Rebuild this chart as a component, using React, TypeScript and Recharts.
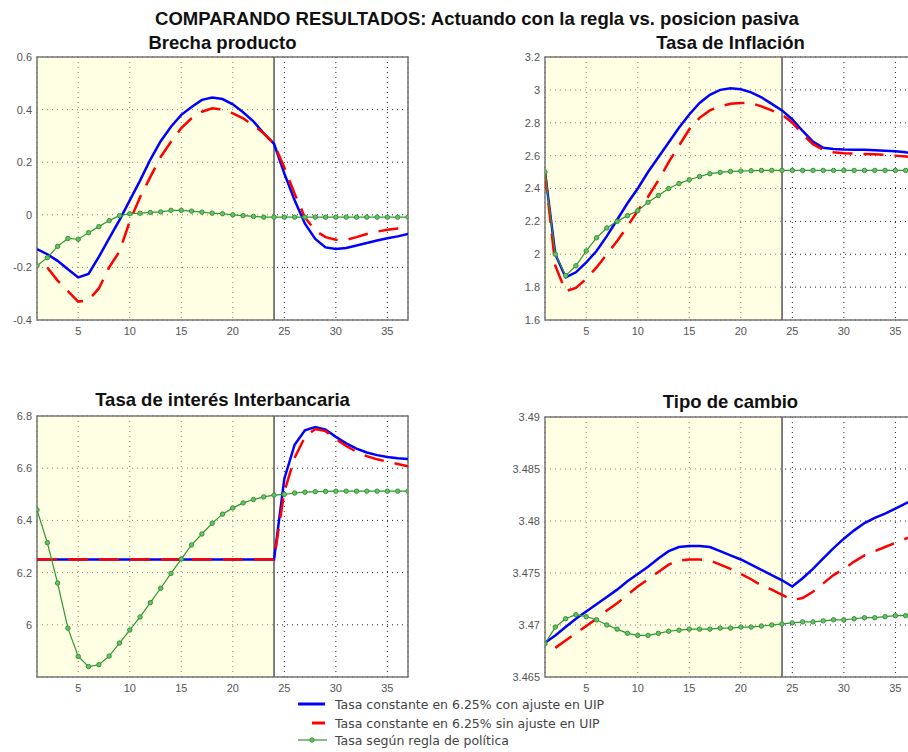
import {
  LineChart,
  Line,
  XAxis,
  YAxis,
  CartesianGrid,
  ReferenceArea,
  ReferenceLine,
} from "recharts";

const periods = [
  1, 2, 3, 4, 5, 6, 7, 8, 9, 10, 11, 12, 13, 14, 15, 16, 17, 18, 19, 20, 21,
  22, 23, 24, 25, 26, 27, 28, 29, 30, 31, 32, 33, 34, 35, 36, 37,
];
const xTicks = [5, 10, 15, 20, 25, 30, 35];
const finRegla = 24;

// Brecha producto
const brechaConAjuste = [
  -0.13, -0.15, -0.175, -0.207, -0.238, -0.225, -0.16, -0.09, -0.02, 0.055,
  0.13, 0.21, 0.28, 0.335, 0.38, 0.41, 0.437, 0.446, 0.44, 0.42, 0.39, 0.355,
  0.31, 0.27, 0.157, 0.055, -0.034, -0.092, -0.124, -0.13, -0.126, -0.117,
  -0.107, -0.098, -0.089, -0.082, -0.073,
];
const brechaSinAjuste = [
  null, -0.2, -0.25, -0.29, -0.33, -0.325, -0.28, -0.2, -0.14, -0.025, 0.067,
  0.144, 0.22, 0.278, 0.33, 0.367, 0.392, 0.405, 0.4, 0.386, 0.367, 0.34, 0.31,
  0.27, 0.18, 0.08, -0.01, -0.06, -0.085, -0.095, -0.095, -0.085, -0.073,
  -0.064, -0.057, -0.052, -0.047,
];
const brechaRegla = [
  -0.194, -0.163, -0.12, -0.09, -0.093, -0.068, -0.045, -0.022, -0.003, 0.004,
  0.006, 0.009, 0.011, 0.017, 0.017, 0.014, 0.01, 0.006, 0.004, 0, -0.003,
  -0.006, -0.009, -0.009, -0.009, -0.009, -0.009, -0.009, -0.009, -0.009,
  -0.009, -0.009, -0.009, -0.009, -0.009, -0.009, -0.009,
];
const brechaTicks = [-0.4, -0.2, 0, 0.2, 0.4, 0.6];

// Tasa de inflacion
const inflConAjuste = [
  2.5, 2.0, 1.86, 1.89, 1.95, 2.02, 2.11, 2.21, 2.31, 2.4, 2.5, 2.59, 2.68,
  2.77, 2.85, 2.92, 2.97, 3.0, 3.01, 3.004, 2.985, 2.955, 2.915, 2.875, 2.82,
  2.75, 2.685, 2.648, 2.64, 2.637, 2.636, 2.635, 2.633, 2.63, 2.627, 2.62, 2.61,
];
const inflSinAjuste = [
  2.5, 1.93, 1.775, 1.795, 1.85, 1.92, 2.0, 2.08, 2.17, 2.265, 2.35, 2.45,
  2.56, 2.66, 2.76, 2.83, 2.875, 2.9, 2.915, 2.92, 2.92, 2.9, 2.875, 2.85, 2.8,
  2.73, 2.67, 2.635, 2.62, 2.615, 2.612, 2.61, 2.608, 2.605, 2.6, 2.595, 2.59,
];
const inflRegla = [
  2.5, 2.0, 1.87, 1.93, 2.02, 2.1, 2.16, 2.2, 2.235, 2.265, 2.316, 2.357, 2.4,
  2.43, 2.453, 2.473, 2.49, 2.498, 2.504, 2.506, 2.508, 2.51, 2.51, 2.51, 2.51,
  2.51, 2.51, 2.51, 2.51, 2.51, 2.51, 2.51, 2.51, 2.51, 2.51, 2.51, 2.51,
];
const inflTicks = [1.6, 1.8, 2, 2.2, 2.4, 2.6, 2.8, 3, 3.2];

// Tasa de interes interbancaria
const tasaConAjuste = [
  6.25, 6.25, 6.25, 6.25, 6.25, 6.25, 6.25, 6.25, 6.25, 6.25, 6.25, 6.25, 6.25,
  6.25, 6.25, 6.25, 6.25, 6.25, 6.25, 6.25, 6.25, 6.25, 6.25, 6.25, 6.56, 6.69,
  6.745, 6.758, 6.748, 6.72, 6.695, 6.675, 6.66, 6.65, 6.643, 6.638, 6.635,
];
const tasaSinAjuste = [
  6.25, 6.25, 6.25, 6.25, 6.25, 6.25, 6.25, 6.25, 6.25, 6.25, 6.25, 6.25, 6.25,
  6.25, 6.25, 6.25, 6.25, 6.25, 6.25, 6.25, 6.25, 6.25, 6.25, 6.25, 6.51, 6.64,
  6.72, 6.75, 6.742, 6.712, 6.685, 6.663, 6.646, 6.634, 6.625, 6.616, 6.607,
];
const tasaRegla = [
  6.44, 6.315, 6.16, 5.987, 5.879, 5.84, 5.847, 5.88, 5.93, 5.98, 6.03, 6.085,
  6.14, 6.197, 6.252, 6.306, 6.348, 6.389, 6.424, 6.448, 6.467, 6.48, 6.49,
  6.497, 6.5, 6.505, 6.508, 6.51, 6.511, 6.512, 6.512, 6.512, 6.512, 6.512,
  6.512, 6.512, 6.512,
];
const tasaTicks = [6, 6.2, 6.4, 6.6, 6.8];

// Tipo de cambio
const cambioConAjuste = [
  3.4683, 3.469, 3.4698, 3.4706, 3.4713, 3.472, 3.4727, 3.4734, 3.4742, 3.4749,
  3.4756, 3.4764, 3.4771, 3.4775, 3.4776, 3.4776, 3.4775, 3.4771, 3.4767,
  3.4763, 3.4758, 3.4753, 3.4748, 3.4743, 3.4737, 3.4745, 3.4754, 3.4764,
  3.4774, 3.4783, 3.4791, 3.4798, 3.4803, 3.4807, 3.4812, 3.4817, 3.4821,
];
const cambioSinAjuste = [
  null, 3.4678, 3.4685, 3.4692, 3.4699, 3.4706, 3.4714, 3.4721, 3.4729, 3.4737,
  3.4744, 3.4751, 3.4758, 3.4762, 3.4763, 3.4763, 3.4762, 3.4758, 3.4754,
  3.4749, 3.4744, 3.4738, 3.4734, 3.4729, 3.4724, 3.4726, 3.4732, 3.474,
  3.4748, 3.4754, 3.4761, 3.4767, 3.4771, 3.4775, 3.4779, 3.4783, 3.4787,
];
const cambioRegla = [
  3.4682, 3.4698, 3.4706, 3.471, 3.4708, 3.4705, 3.47, 3.4696, 3.4692, 3.469,
  3.469, 3.4692, 3.4694, 3.4695, 3.4696, 3.4696, 3.4696, 3.4697, 3.4697,
  3.4698, 3.4698, 3.4699, 3.47, 3.4701, 3.4702, 3.4703, 3.4703, 3.4704, 3.4705,
  3.4705, 3.4706, 3.4707, 3.4707, 3.4708, 3.4709, 3.4709, 3.471,
];
const cambioTicks = [3.465, 3.47, 3.475, 3.48, 3.485, 3.49];

const legendLabels = [
  "Tasa constante en 6.25% con ajuste en UIP",
  "Tasa constante en 6.25% sin ajuste en UIP",
  "Tasa según regla de política",
];

const BLUE = "#0000ff";
const RED = "#ff0000";
const GREEN = "#2f962f";
const FONT = "'Liberation Sans', Arial, sans-serif";
const PLOT_W = 371;
const Y_AXIS_W = 45;

const buildRows = (con: any[], sin: any[], regla: any[]) =>
  periods.map((p, i) => ({ x: p, con: con[i], sin: sin[i], regla: regla[i] }));

const Panel = ({ title, con, sin, regla, ticks, domain, plotLeft, plotTop, plotH, titleTop }: any) => {
  const rows = buildRows(con, sin, regla);
  return (
    <>
      <div
        style={{
          position: "absolute",
          left: plotLeft,
          top: titleTop,
          width: PLOT_W,
          textAlign: "center",
          fontWeight: "bold",
          fontSize: 18.5,
          color: "#111",
        }}
      >
        {title}
      </div>
      <div style={{ position: "absolute", left: plotLeft - Y_AXIS_W, top: plotTop - 10 }}>
        <LineChart
          width={Y_AXIS_W + PLOT_W + 12}
          height={10 + plotH + 22}
          data={rows}
          margin={{ top: 10, right: 12, bottom: 0, left: 0 }}
        >
          <CartesianGrid stroke="#222" strokeDasharray="1 4" />
          {/* yellow shading for the rule period, translucent so the grid shows through */}
          <ReferenceArea x1={1} x2={finRegla} fill="#ffffc3" fillOpacity={0.45} />
          <ReferenceLine x={finRegla} stroke="#555" strokeWidth={1.5} />
          <ReferenceArea x1={1} x2={37} fill="none" stroke="#777" strokeWidth={1.5} />
          <XAxis
            dataKey="x"
            type="number"
            domain={[1, 37]}
            ticks={xTicks}
            allowDataOverflow
            height={22}
            axisLine={false}
            tickLine={false}
            tickSize={0}
            tickMargin={7}
            tick={{ fill: "#555", fontSize: 11, fontFamily: FONT }}
          />
          <YAxis
            type="number"
            domain={domain}
            ticks={ticks}
            allowDataOverflow
            width={Y_AXIS_W}
            axisLine={false}
            tickLine={false}
            tickSize={0}
            tickMargin={5}
            tick={{ fill: "#555", fontSize: 11, fontFamily: FONT }}
          />
          <Line
            dataKey="con"
            stroke={BLUE}
            strokeWidth={2.5}
            dot={false}
            isAnimationActive={false}
          />
          <Line
            dataKey="sin"
            stroke={RED}
            strokeWidth={2.5}
            strokeDasharray="20 11"
            dot={false}
            isAnimationActive={false}
          />
          <Line
            dataKey="regla"
            stroke={GREEN}
            strokeWidth={1.2}
            dot={{ r: 2.2, fill: "#6cbf6c", stroke: GREEN, strokeWidth: 1 }}
            isAnimationActive={false}
          />
        </LineChart>
      </div>
    </>
  );
};

const LegendRow = ({ label, kind, top }: any) => (
  <div
    style={{
      position: "absolute",
      left: 296,
      top,
      height: 16,
      display: "flex",
      alignItems: "center",
    }}
  >
    <svg width={34} height={16}>
      {kind === "blue" && <line x1={2} x2={29} y1={8} y2={8} stroke={BLUE} strokeWidth={3} />}
      {kind === "red" && <line x1={16} x2={29} y1={8} y2={8} stroke={RED} strokeWidth={3} />}
      {kind === "green" && (
        <>
          <line x1={2} x2={31} y1={8} y2={8} stroke={GREEN} strokeWidth={1.2} />
          <circle cx={16} cy={8} r={2.2} fill="#6cbf6c" stroke={GREEN} />
        </>
      )}
    </svg>
    <span style={{ fontSize: 12.5, color: "#444", fontFamily: "'DejaVu Sans', sans-serif", marginLeft: 5 }}>
      {label}
    </span>
  </div>
);

export default function App() {
  return (
    <div
      style={{
        position: "absolute",
        left: 0,
        top: 0,
        width: 908,
        height: 752,
        overflow: "hidden",
        background: "#fff",
        fontFamily: FONT,
      }}
    >
      <div
        style={{
          position: "absolute",
          left: 0,
          top: 8,
          width: 954,
          textAlign: "center",
          fontWeight: "bold",
          fontSize: 18.5,
          color: "#111",
        }}
      >
        COMPARANDO RESULTADOS: Actuando con la regla vs. posicion pasiva
      </div>
      <Panel
        title="Brecha producto"
        con={brechaConAjuste}
        sin={brechaSinAjuste}
        regla={brechaRegla}
        ticks={brechaTicks}
        domain={[-0.4, 0.6]}
        plotLeft={37}
        plotTop={57}
        plotH={263}
        titleTop={32}
      />
      <Panel
        title="Tasa de Inflación"
        con={inflConAjuste}
        sin={inflSinAjuste}
        regla={inflRegla}
        ticks={inflTicks}
        domain={[1.6, 3.2]}
        plotLeft={545}
        plotTop={57}
        plotH={263}
        titleTop={32}
      />
      <Panel
        title="Tasa de interés Interbancaria"
        con={tasaConAjuste}
        sin={tasaSinAjuste}
        regla={tasaRegla}
        ticks={tasaTicks}
        domain={[5.8, 6.8]}
        plotLeft={37}
        plotTop={416}
        plotH={261}
        titleTop={389}
      />
      <Panel
        title="Tipo de cambio"
        con={cambioConAjuste}
        sin={cambioSinAjuste}
        regla={cambioRegla}
        ticks={cambioTicks}
        domain={[3.465, 3.49]}
        plotLeft={545}
        plotTop={417}
        plotH={260}
        titleTop={391}
      />
      <LegendRow label={legendLabels[0]} kind="blue" top={696} />
      <LegendRow label={legendLabels[1]} kind="red" top={715} />
      <LegendRow label={legendLabels[2]} kind="green" top={732} />
    </div>
  );
}
